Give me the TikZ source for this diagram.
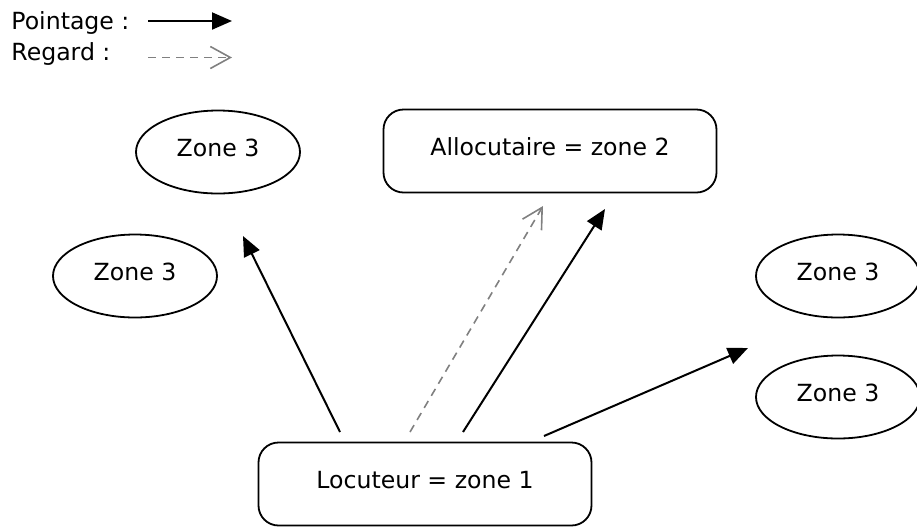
\documentclass[tikz,border=0pt]{standalone}
\usepackage{fontspec}
\setmainfont{DejaVu Sans}
\usetikzlibrary{arrows.meta}
\usetikzlibrary{shapes.geometric}

\begin{document}
\begin{tikzpicture}[x=0.5pt, y=-0.5pt,
    txt/.style={font=\fontsize{11.8}{14}\selectfont},
    zone/.style={txt, ellipse, draw, line width=0.9pt, minimum width=82pt, minimum height=41.5pt, text height=8.6pt, text depth=4pt},
    party/.style={txt, rectangle, draw, line width=0.9pt, rounded corners=10pt, minimum width=166.5pt, minimum height=41.5pt, text height=8.6pt, text depth=4pt},
    pointage/.style={line width=1pt, -{Triangle[length=10pt, width=8.5pt]}},
    regard/.style={line width=0.8pt, gray, dash pattern=on 4pt off 3pt, -{Straight Barb[length=10pt, width=11pt]}}]
    \useasboundingbox (0,0) rectangle (917,527);

    \node[txt, anchor=base west, inner sep=0pt] (lpoint) at (11,29) {Pointage :};
    \node[txt, anchor=base west, inner sep=0pt] (lregard) at (11,60) {Regard :};
    \coordinate (lp1) at (148,21);
    \coordinate (lp2) at (232,21);
    \coordinate (lr1) at (148,57.5);
    \coordinate (lr2) at (232,57.5);
    \draw[pointage] (lp1) -- (lp2);
    \draw[regard] (lr1) -- (lr2);

    \node[zone] (z3a) at (218,152) {Zone 3};
    \node[zone] (z3b) at (135,276) {Zone 3};
    \node[zone] (z3c) at (838,276) {Zone 3};
    \node[zone] (z3d) at (838,397) {Zone 3};

    \node[party] (allo) at (550,151) {Allocutaire = zone 2};
    \node[party] (loc) at (425,484) {Locuteur = zone 1};

    \coordinate (s1) at (340,432);
    \coordinate (s2) at (410,432);
    \coordinate (s3) at (463,432);
    \coordinate (s4) at (544,436);
    \coordinate (e1) at (243,236);
    \coordinate (e2) at (543,206);
    \coordinate (e3) at (605,209);
    \coordinate (e4) at (748,348);

    \draw[pointage] (s1) -- (e1);
    \draw[regard] (s2) -- (e2);
    \draw[pointage] (s3) -- (e3);
    \draw[pointage] (s4) -- (e4);
\end{tikzpicture}
\end{document}
